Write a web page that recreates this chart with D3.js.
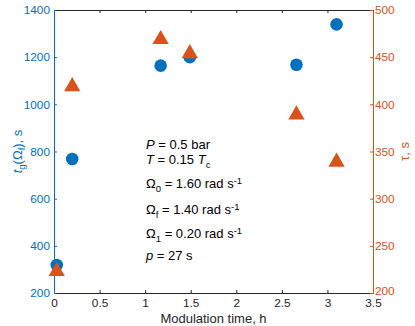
<!DOCTYPE html>
<html>
<head>
<meta charset="utf-8">
<script src="https://cdn.jsdelivr.net/npm/d3@7"></script>
<style>
  body { margin: 0; background: #fff; }
  text { font-family: "Liberation Sans", Arial, sans-serif; }
</style>
</head>
<body>
<svg id="chart" width="415" height="326"></svg>
<script>
// data
const modTime = [0.03, 0.20, 1.17, 1.49, 2.66, 3.10]
const tg = [319, 768, 1164, 1200, 1168, 1339]
const tau = [224, 420, 470, 455, 390, 340]
const xTicks = [0, 0.5, 1, 1.5, 2, 2.5, 3, 3.5]
const leftTicks = [200, 400, 600, 800, 1000, 1200, 1400]
const rightTicks = [200, 250, 300, 350, 400, 450, 500]

const blue = '#0072BD'
const orange = '#D95319'
const fs = 11.8    // tick labels
const fl = 13      // axis labels + annotation
const fsub = 9.5

let svg = d3.select('#chart')
let m = {left: 54, right: 373, top: 10, bottom: 293}

let x = d3.scaleLinear().domain([0, 3.5]).range([m.left, m.right])
let yL = d3.scaleLinear().domain([200, 1400]).range([m.bottom, m.top])
let yR = d3.scaleLinear().domain([200, 500]).range([m.bottom, m.top])

// bottom + top axis
let gx = svg.append('g').attr('transform', 'translate(0,' + m.bottom + ')')
    .call(d3.axisBottom(x).tickValues(xTicks).tickSizeInner(-3).tickSizeOuter(0).tickPadding(6)
        .tickFormat(d => d))
gx.select('.domain').attr('stroke', '#262626')
gx.selectAll('line').attr('stroke', '#262626')
gx.selectAll('text').attr('fill', '#262626').attr('font-size', fs)

let gt = svg.append('g').attr('transform', 'translate(0,' + m.top + ')')
    .call(d3.axisTop(x).tickValues(xTicks).tickSizeInner(-3).tickSizeOuter(0).tickFormat(''))
gt.select('.domain').attr('stroke', '#262626')
gt.selectAll('line').attr('stroke', '#262626')

// left axis
let gl = svg.append('g').attr('transform', 'translate(' + m.left + ',0)')
    .call(d3.axisLeft(yL).tickValues(leftTicks).tickSizeInner(-3).tickSizeOuter(0).tickPadding(4)
        .tickFormat(d => d))
gl.select('.domain').attr('stroke', blue)
gl.selectAll('line').attr('stroke', blue)
gl.selectAll('text').attr('fill', blue).attr('font-size', fs)

// right axis
let gr = svg.append('g').attr('transform', 'translate(' + m.right + ',0)')
    .call(d3.axisRight(yR).tickValues(rightTicks).tickSizeInner(-3).tickSizeOuter(0).tickPadding(2)
        .tickFormat(d => d))
gr.select('.domain').attr('stroke', orange)
gr.selectAll('line').attr('stroke', orange)
gr.selectAll('text').attr('fill', orange).attr('font-size', fs)
// lowest right label sits a hair higher so it clears the "3.5"
gr.selectAll('.tick text').filter(d => d == 200).attr('dy', '0.15em')

// axis labels
svg.append('text')
    .attr('x', (m.left + m.right) / 2).attr('y', 323)
    .attr('text-anchor', 'middle').attr('font-size', fl).attr('fill', '#262626')
    .text('Modulation time, h')

let lab = svg.append('text')
    .attr('transform', 'translate(22,' + ((m.top + m.bottom) / 2) + ') rotate(-90)')
    .attr('text-anchor', 'middle').attr('font-size', fl).attr('fill', blue)
lab.append('tspan').attr('font-style', 'italic').text('t')
lab.append('tspan').attr('font-size', fsub).attr('dy', 3).text('g')
lab.append('tspan').attr('dy', -3).text('(Ω')
lab.append('tspan').attr('font-size', fsub).attr('dy', 3).text('f')
lab.append('tspan').attr('dy', -3).text('), s')

svg.append('text')
    .attr('transform', 'translate(409,' + ((m.top + m.bottom) / 2) + ') rotate(-90)')
    .attr('text-anchor', 'middle').attr('font-size', fl).attr('fill', orange)
    .text('τ, s')

// markers
svg.selectAll('.pt').data(modTime).enter().append('circle')
    .attr('class', 'pt')
    .attr('cx', d => x(d))
    .attr('cy', (d, i) => yL(tg[i]))
    .attr('r', 6.3)
    .attr('fill', blue)

let tri = d3.symbol().type(d3.symbolTriangle).size(115)
svg.selectAll('.tri').data(modTime).enter().append('path')
    .attr('class', 'tri')
    .attr('d', tri)
    .attr('transform', (d, i) => 'translate(' + x(d) + ',' + (yR(tau[i]) + 1) + ')')
    .attr('fill', orange)

// annotation
let ax = 146
let ann = svg.append('g').attr('font-size', fl).attr('fill', '#000')
function line(y, parts) {
    let t = ann.append('text').attr('x', ax).attr('y', y)
    parts.forEach(p => {
        let s = t.append('tspan').text(p.t)
        if (p.i) s.attr('font-style', 'italic')
        if (p.sub) s.attr('font-size', fsub).attr('dy', 4)
        if (p.sup) s.attr('font-size', fsub).attr('dy', -4)
        if (p.dy) s.attr('dy', p.dy)
    })
}
line(149, [{t: 'P', i: true}, {t: ' = 0.5 bar'}])
line(164, [{t: 'T', i: true}, {t: ' = 0.15 '}, {t: 'T', i: true}, {t: 'c', sub: true}])
line(188, [{t: 'Ω'}, {t: '0', sub: true}, {t: ' = 1.60 rad s', dy: -4}, {t: '-1', sup: true}])
line(214, [{t: 'Ω'}, {t: 'f', sub: true}, {t: ' = 1.40 rad s', dy: -4}, {t: '-1', sup: true}])
line(238, [{t: 'Ω'}, {t: '1', sub: true}, {t: ' = 0.20 rad s', dy: -4}, {t: '-1', sup: true}])
line(260, [{t: 'p', i: true}, {t: ' = 27 s'}])
</script>
</body>
</html>
